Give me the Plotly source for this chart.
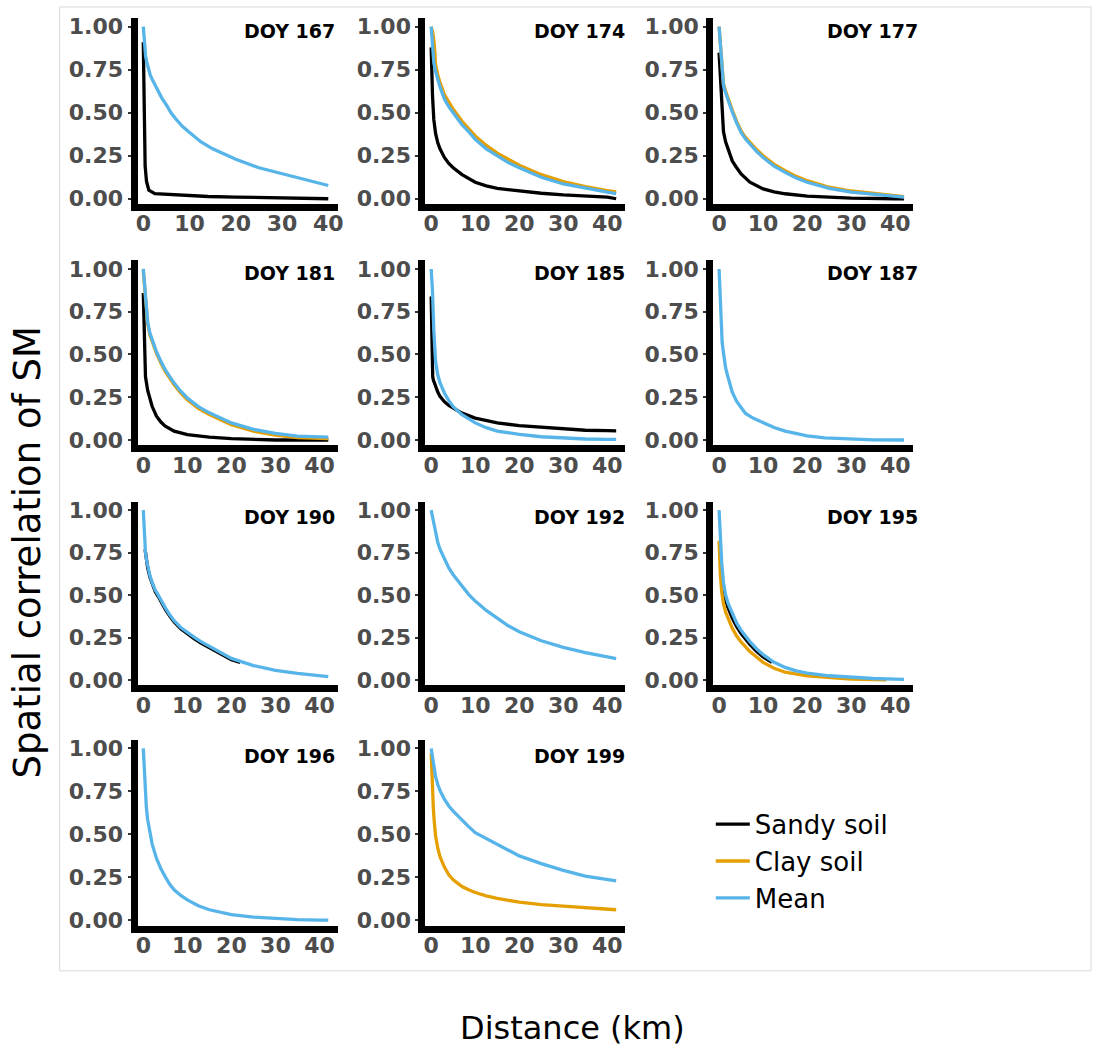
import plotly.graph_objects as go

# ---------------- data ----------------
doy_titles = ["DOY 167", "DOY 174", "DOY 177", "DOY 181", "DOY 185", "DOY 187",
              "DOY 190", "DOY 192", "DOY 195", "DOY 196", "DOY 199"]
series_names = ["Sandy soil", "Clay soil", "Mean"]
series_colors = ["#000000", "#E69F00", "#56B4E9"]
x_ticks = [0, 10, 20, 30, 40]
y_ticks = [0, 0.25, 0.5, 0.75, 1.0]
y_tick_text = ["0.00", "0.25", "0.50", "0.75", "1.00"]

# DOY 167
d167_sandy_x = [0, 0.2, 0.4, 0.7, 1.2, 2.5, 7, 14, 20, 30, 40]
d167_sandy_y = [0.91, 0.59, 0.19, 0.10, 0.05, 0.03, 0.022, 0.013, 0.01, 0.006, 0.0]
d167_mean_x = [0, 0.15, 0.3, 0.5, 0.7, 1, 1.5, 2, 3, 4, 5, 6, 7, 8.5, 10, 12.5, 15, 17.5, 20, 25, 30, 35, 40]
d167_mean_y = [1.00, 0.93, 0.87, 0.83, 0.80, 0.765, 0.72, 0.69, 0.635, 0.585, 0.545, 0.50, 0.465, 0.42, 0.385,
               0.33, 0.29, 0.26, 0.23, 0.18, 0.145, 0.11, 0.077]

# DOY 174
d174_sandy_x = [0, 0.15, 0.3, 0.6, 1, 1.5, 2, 3, 4, 5, 7, 10, 12.5, 15, 20, 25, 30, 35, 40, 42]
d174_sandy_y = [0.88, 0.72, 0.60, 0.46, 0.38, 0.325, 0.29, 0.24, 0.205, 0.18, 0.14, 0.096, 0.075, 0.06,
                0.045, 0.032, 0.022, 0.015, 0.01, 0.0]
d174_clay_x = [0, 0.4, 0.7, 1, 1.5, 2, 3, 4, 5, 7, 10, 12.5, 15, 20, 25, 30, 35, 40, 42]
d174_clay_y = [1.0, 0.96, 0.90, 0.78, 0.72, 0.675, 0.605, 0.56, 0.52, 0.45, 0.365, 0.31, 0.265, 0.195,
               0.14, 0.10, 0.07, 0.047, 0.04]
d174_mean_x = [0, 0.15, 0.3, 0.6, 1, 1.5, 2, 3, 4, 5, 6, 7, 8.5, 10, 12.5, 15, 17.5, 20, 25, 30, 35, 40, 42]
d174_mean_y = [1.00, 0.93, 0.87, 0.79, 0.74, 0.69, 0.65, 0.58, 0.535, 0.50, 0.465, 0.43, 0.39, 0.345,
               0.29, 0.25, 0.21, 0.18, 0.125, 0.086, 0.06, 0.038, 0.03]

# DOY 177
d177_sandy_x = [0, 0.15, 0.3, 0.5, 0.75, 1, 1.5, 2, 3, 4, 5, 7, 10, 12.5, 15, 20, 25, 30, 40, 42]
d177_sandy_y = [0.85, 0.78, 0.71, 0.575, 0.46, 0.39, 0.33, 0.29, 0.22, 0.18, 0.144, 0.096, 0.057, 0.04,
                0.029, 0.015, 0.008, 0.004, 0.0, 0.0]
d177_clay_x = [0, 0.25, 0.5, 0.75, 1, 1.5, 2, 3, 4, 5, 6, 7, 8.5, 10, 12.5, 15, 17.5, 20, 25, 30, 35, 40, 42]
d177_clay_y = [1.0, 0.92, 0.845, 0.73, 0.67, 0.625, 0.585, 0.515, 0.45, 0.395, 0.357, 0.327, 0.286, 0.25,
               0.20, 0.163, 0.13, 0.105, 0.067, 0.045, 0.03, 0.017, 0.013]
d177_mean_x = [0, 0.25, 0.5, 0.75, 1, 1.5, 2, 3, 4, 5, 6, 7, 8.5, 10, 12.5, 15, 17.5, 20, 25, 30, 35, 40, 42]
d177_mean_y = [1.00, 0.92, 0.84, 0.72, 0.66, 0.615, 0.575, 0.505, 0.44, 0.385, 0.347, 0.316, 0.275, 0.24,
               0.19, 0.153, 0.12, 0.096, 0.06, 0.038, 0.025, 0.013, 0.01]

# DOY 181
d181_sandy_x = [0, 0.2, 0.35, 0.5, 1, 1.5, 2, 3, 4, 5, 7, 10, 15, 20, 30, 42]
d181_sandy_y = [0.86, 0.70, 0.50, 0.37, 0.29, 0.24, 0.197, 0.139, 0.105, 0.081, 0.052, 0.031, 0.017, 0.008, 0.0, 0.0]
d181_clay_x = [0, 0.25, 0.5, 0.75, 1, 1.5, 2, 3, 4, 5, 7, 8.5, 10, 12.5, 15, 17.5, 20, 25, 30, 35, 40, 42]
d181_clay_y = [0.99, 0.92, 0.855, 0.75, 0.68, 0.615, 0.574, 0.506, 0.45, 0.40, 0.323, 0.275, 0.236, 0.185,
               0.149, 0.117, 0.09, 0.052, 0.029, 0.014, 0.008, 0.008]
d181_mean_x = [0, 0.25, 0.5, 0.75, 1, 1.5, 2, 3, 4, 5, 7, 8.5, 10, 12.5, 15, 17.5, 20, 25, 30, 35, 40, 42]
d181_mean_y = [1.00, 0.93, 0.865, 0.76, 0.69, 0.625, 0.584, 0.516, 0.46, 0.41, 0.333, 0.285, 0.246, 0.195,
               0.159, 0.127, 0.10, 0.062, 0.039, 0.023, 0.017, 0.017]

# DOY 185
d185_sandy_x = [0, 0.1, 0.2, 0.35, 0.5, 1, 1.5, 2, 3, 4, 5, 7, 10, 12.5, 15, 20, 25, 30, 35, 40, 42]
d185_sandy_y = [0.84, 0.60, 0.41, 0.37, 0.35, 0.31, 0.28, 0.255, 0.224, 0.202, 0.186, 0.157, 0.128, 0.112,
                0.10, 0.084, 0.075, 0.065, 0.057, 0.055, 0.054]
d185_mean_x = [0, 0.3, 0.6, 0.8, 1, 1.5, 2, 3, 4, 5, 7, 10, 12.5, 15, 20, 25, 30, 35, 40, 42]
d185_mean_y = [1.0, 0.87, 0.64, 0.53, 0.46, 0.38, 0.335, 0.275, 0.23, 0.195, 0.148, 0.10, 0.072, 0.052,
               0.033, 0.019, 0.011, 0.006, 0.004, 0.004]

# DOY 187
d187_mean_x = [0, 0.2, 0.3, 0.45, 0.7, 1, 1.5, 2, 3, 4, 5, 6, 7.7, 10, 12.5, 15, 17.5, 20, 24, 30, 35, 42]
d187_mean_y = [1.0, 0.86, 0.80, 0.66, 0.57, 0.51, 0.42, 0.37, 0.28, 0.225, 0.186, 0.155, 0.128, 0.10,
               0.073, 0.052, 0.036, 0.024, 0.013, 0.004, 0.001, 0.0]

# DOY 190
d190_sandy_x = [0.4, 0.75, 1, 1.5, 2, 2.7, 3.4, 4, 5, 6, 7, 8.5, 10, 11.7, 13, 15, 17.5, 20, 22]
d190_sandy_y = [0.77, 0.695, 0.66, 0.607, 0.567, 0.522, 0.492, 0.462, 0.417, 0.377, 0.342, 0.302, 0.272,
                0.242, 0.22, 0.192, 0.152, 0.12, 0.104]
d190_mean_x = [0, 0.2, 0.5, 0.75, 1, 1.5, 2, 2.7, 3.4, 4, 5, 6, 7, 8.5, 10, 11.7, 13, 15, 17.5, 20, 25,
               30, 35, 40, 42]
d190_mean_y = [1.0, 0.89, 0.75, 0.705, 0.67, 0.615, 0.575, 0.53, 0.50, 0.47, 0.425, 0.385, 0.35, 0.31,
               0.28, 0.25, 0.228, 0.20, 0.16, 0.128, 0.086, 0.058, 0.04, 0.029, 0.021]

# DOY 192
d192_mean_x = [0, 0.25, 0.5, 1, 1.5, 2, 3, 4, 5, 6, 7, 8.5, 10, 12.5, 15, 17.5, 20, 25, 30, 35, 40, 42]
d192_mean_y = [1.0, 0.965, 0.935, 0.87, 0.81, 0.77, 0.71, 0.66, 0.62, 0.585, 0.55, 0.505, 0.465, 0.41,
               0.365, 0.32, 0.285, 0.232, 0.193, 0.162, 0.137, 0.127]

# DOY 195
d195_sandy_x = [0.5, 1, 1.5, 2, 3, 4, 5, 7, 8.5, 10, 12]
d195_sandy_y = [0.62, 0.54, 0.47, 0.43, 0.365, 0.315, 0.274, 0.21, 0.17, 0.137, 0.105]
d195_clay_x = [0, 0.15, 0.3, 0.6, 1, 1.5, 2, 3, 4, 5, 7, 8.5, 10, 12.5, 15, 20, 25, 30, 38]
d195_clay_y = [0.82, 0.70, 0.62, 0.52, 0.45, 0.40, 0.365, 0.305, 0.26, 0.225, 0.168, 0.135, 0.105, 0.07,
               0.047, 0.026, 0.015, 0.007, 0.002]
d195_mean_x = [0, 0.15, 0.3, 0.6, 1, 1.5, 2, 3, 4, 5, 6, 7, 8.5, 10, 12.5, 15, 17.5, 20, 25, 30, 35, 40, 42]
d195_mean_y = [1.0, 0.90, 0.82, 0.69, 0.575, 0.50, 0.455, 0.39, 0.335, 0.294, 0.257, 0.227, 0.185, 0.15,
               0.105, 0.075, 0.055, 0.042, 0.026, 0.016, 0.01, 0.006, 0.005]

# DOY 196
d196_mean_x = [0, 0.15, 0.3, 0.5, 0.7, 1, 1.5, 2, 3, 4, 5, 6, 7, 8.5, 10, 12.5, 15, 17.5, 20, 25, 30,
               35, 40, 42]
d196_mean_y = [1.0, 0.90, 0.81, 0.72, 0.655, 0.585, 0.505, 0.445, 0.36, 0.30, 0.253, 0.21, 0.178, 0.145,
               0.119, 0.085, 0.062, 0.045, 0.033, 0.019, 0.01, 0.004, 0.002, 0.002]

# DOY 199
d199_clay_x = [0, 0.15, 0.3, 0.5, 0.7, 1, 1.5, 2, 3, 4, 5, 7, 8.5, 10, 12.5, 15, 20, 25, 30, 35, 40, 42]
d199_clay_y = [0.97, 0.85, 0.75, 0.65, 0.575, 0.49, 0.42, 0.37, 0.31, 0.265, 0.236, 0.197, 0.178, 0.162,
               0.143, 0.128, 0.106, 0.092, 0.083, 0.075, 0.067, 0.062]
d199_mean_x = [0, 0.25, 0.5, 1, 1.5, 2, 3, 4, 5, 7, 8.5, 10, 12.5, 15, 17.5, 20, 25, 30, 35, 40, 42]
d199_mean_y = [1.0, 0.95, 0.905, 0.835, 0.79, 0.755, 0.705, 0.665, 0.635, 0.58, 0.545, 0.51, 0.475, 0.44,
               0.405, 0.375, 0.33, 0.291, 0.258, 0.235, 0.23]

# series per panel: (series index, x, y) drawn in order sandy, clay, mean
panels = [
    [(0, d167_sandy_x, d167_sandy_y), (2, d167_mean_x, d167_mean_y)],
    [(0, d174_sandy_x, d174_sandy_y), (1, d174_clay_x, d174_clay_y), (2, d174_mean_x, d174_mean_y)],
    [(0, d177_sandy_x, d177_sandy_y), (1, d177_clay_x, d177_clay_y), (2, d177_mean_x, d177_mean_y)],
    [(0, d181_sandy_x, d181_sandy_y), (1, d181_clay_x, d181_clay_y), (2, d181_mean_x, d181_mean_y)],
    [(0, d185_sandy_x, d185_sandy_y), (2, d185_mean_x, d185_mean_y)],
    [(2, d187_mean_x, d187_mean_y)],
    [(0, d190_sandy_x, d190_sandy_y), (2, d190_mean_x, d190_mean_y)],
    [(2, d192_mean_x, d192_mean_y)],
    [(0, d195_sandy_x, d195_sandy_y), (1, d195_clay_x, d195_clay_y), (2, d195_mean_x, d195_mean_y)],
    [(2, d196_mean_x, d196_mean_y)],
    [(1, d199_clay_x, d199_clay_y), (2, d199_mean_x, d199_mean_y)],
]

# ---------------- layout geometry (pixels) ----------------
W, H = 1100, 1050
LW = 7                      # axis line width
col_left = [133, 423, 713]
panel_w = 205
row_top = [14.3, 259.4, 503.4, 744.3]
row_bot = [205.7, 449.7, 692.6, 935.7]
title_right = [337, 630, 925]
title_yc = [27, 272, 519, 761]

fig = go.Figure()
shown = set()
tick_font = dict(family="DejaVu Sans", size=22, color="#4D4D4D", weight="bold")

for i, series in enumerate(panels):
    r, c = divmod(i, 3)
    k = i + 1
    xs = "x" if k == 1 else f"x{k}"
    ys = "y" if k == 1 else f"y{k}"
    xmax = max(max(s[1]) for s in series)
    xr = [-0.05 * xmax, 1.05 * xmax]
    yr = [-0.05, 1.05]
    L, R = col_left[c], col_left[c] + panel_w
    T, B = row_top[r], row_bot[r]
    kx = (R - L) / (xr[1] - xr[0])
    ky = (B - T) / (yr[1] - yr[0])
    # plotly draws axis lines outside the plot area: shift area by half line width
    xdom = [(L + LW / 2) / W, R / W]
    ydom = [1 - (B - LW / 2) / H, 1 - T / H]
    xrange = [xr[0] + (LW / 2) / kx, xr[1]]
    yrange = [yr[0] + (LW / 2) / ky, yr[1]]

    for si, x, y in series:
        name = series_names[si]
        fig.add_trace(go.Scatter(
            x=x, y=y, mode="lines", name=name, legendgroup=name,
            legendrank=si + 1, showlegend=name not in shown,
            line=dict(color=series_colors[si], width=3.3),
            xaxis=xs, yaxis=ys, hoverinfo="skip"))
        shown.add(name)

    ax_common = dict(showline=True, linewidth=LW, linecolor="black",
                     showgrid=False, zeroline=False, tickfont=tick_font, fixedrange=True)
    fig.layout[f"xaxis{k if k > 1 else ''}"] = dict(
        domain=xdom, range=xrange, anchor=ys, tickvals=x_ticks, ticks="",
        ticklabelstandoff=-6, **ax_common)
    fig.layout[f"yaxis{k if k > 1 else ''}"] = dict(
        domain=ydom, range=yrange, anchor=xs, tickvals=y_ticks,
        ticktext=y_tick_text, ticks="outside", ticklen=3, tickwidth=1.5,
        tickcolor="#333333", **ax_common)

    fig.add_annotation(text=doy_titles[i], xref="paper", yref="paper",
                       x=title_right[c] / W, y=1 - title_yc[r] / H,
                       xanchor="right", yanchor="middle", showarrow=False,
                       font=dict(family="DejaVu Sans", size=19, color="black", weight="bold"))

# axis titles
fig.add_annotation(text="Spatial correlation of SM", xref="paper", yref="paper",
                   x=26 / W, y=1 - 555 / H, textangle=-90, showarrow=False,
                   xanchor="center", yanchor="middle",
                   font=dict(family="DejaVu Sans", size=37, color="black"))
fig.add_annotation(text="Distance (km)", xref="paper", yref="paper",
                   x=575 / W, y=1 - 1036 / H, showarrow=False,
                   xanchor="center", yanchor="middle",
                   font=dict(family="DejaVu Sans", size=32, color="black"))

# light frame around the panel area
fig.add_shape(type="rect", xref="paper", yref="paper",
              x0=58 / W, x1=1097 / W, y0=1 - 978 / H, y1=1 - 3 / H,
              line=dict(color="#D9D9D9", width=1), fillcolor="rgba(0,0,0,0)", layer="below")

fig.update_layout(
    width=W, height=H, margin=dict(l=0, r=0, t=0, b=0),
    paper_bgcolor="white", plot_bgcolor="white",
    showlegend=True,
    legend=dict(x=714 / W, y=1 - 806 / H, xanchor="left", yanchor="top",
                font=dict(family="DejaVu Sans", size=26, color="black"),
                bgcolor="rgba(0,0,0,0)", borderwidth=0, itemwidth=34,
                tracegroupgap=0),
)

fig.write_html("out.html")
